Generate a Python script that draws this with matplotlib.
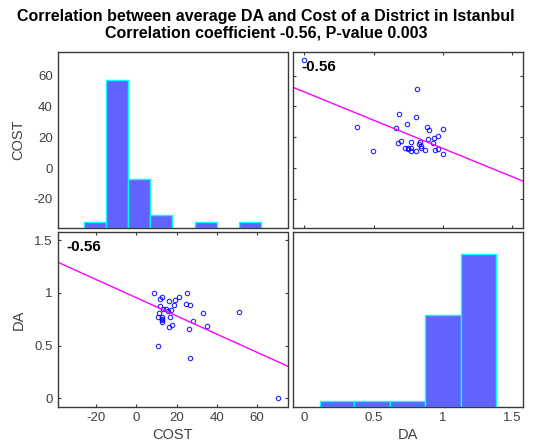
import matplotlib
matplotlib.use("Agg")
import matplotlib.pyplot as plt
import matplotlib.transforms as mtransforms

plt.rcParams["font.family"] = ["Liberation Sans", "DejaVu Sans"]
plt.rcParams["axes.unicode_minus"] = False

# ---------------------------------------------------------------------------
# Data
# ---------------------------------------------------------------------------
cost = [9.0, 11.6, 12.6, 16.3, 18.6, 19.3, 21.0, 25.4, 24.6, 26.9,
        11.6, 13.3, 14.6, 15.8, 17.1, 11.1, 33.4, 51.2, 11.0, 12.8,
        12.6, 13.0, 12.9, 16.8, 28.4, 35.2, 17.8, 16.5, 26.1, 11.0,
        26.8, 70.4]
da = [1.00, 0.946, 0.965, 0.927, 0.89, 0.936, 0.962, 1.00, 0.898, 0.889,
      0.872, 0.844, 0.844, 0.831, 0.838, 0.806, 0.806, 0.815, 0.768, 0.768,
      0.746, 0.727, 0.75, 0.771, 0.739, 0.686, 0.701, 0.679, 0.663, 0.498,
      0.381, 0.0]

cost_edges = [-26, -15, -4, 7, 18, 29, 40, 51, 62]
cost_counts = [1, 24, 8, 2, 0, 1, 0, 1]
da_edges = [0.115, 0.362, 0.62, 0.874, 1.13, 1.38]
da_counts = [1, 1, 1, 15, 25]

# least-squares lines as drawn (intercept, slope)
da_on_cost = (0.955, -0.00862)
cost_on_da = (49.5, -36.8)
r_text = "-0.56"

cost_lim = (-38.8, 75.2)
da_lim = (-0.078, 1.575)
cost_ticks = [-20, 0, 20, 40, 60]
da_ticks = [0, 0.5, 1, 1.5]
da_ticklabels = ["0", "0.5", "1", "1.5"]

title = ("Correlation between average DA and Cost of a District in Istanbul\n"
         "Correlation coefficient -0.56, P-value 0.003")

# ---------------------------------------------------------------------------
W, H = 544, 447
fig = plt.figure(figsize=(W / 100, H / 100), dpi=100)
fig.patch.set_facecolor("white")

FRAME = "#3a3a3a"
TICKCOL = "#404040"
HIST_UNIT = 0.035  # axes fraction per count


def px_axes(left, top, right, bottom):
    return fig.add_axes([left / W, 1 - bottom / H, (right - left) / W,
                         (bottom - top) / H])


ax_tl = px_axes(58.3, 52.3, 287.5, 227.7)
ax_tr = px_axes(293.3, 52.3, 522.7, 227.7)
ax_bl = px_axes(58.3, 232.3, 287.5, 406.7)
ax_br = px_axes(293.3, 232.3, 522.7, 406.7)

for ax in (ax_tl, ax_tr, ax_bl, ax_br):
    for sp in ax.spines.values():
        sp.set_color(FRAME)
        sp.set_linewidth(1.0)
    ax.tick_params(labelsize=9.5, labelcolor=TICKCOL, color=FRAME,
                   direction="in", length=2.5, width=0.8,
                   top=True, right=True, pad=4)


def hist_bars(ax, edges, counts):
    trans = mtransforms.blended_transform_factory(ax.transData, ax.transAxes)
    for lo, hi, c in zip(edges[:-1], edges[1:], counts):
        if c == 0:
            continue
        ax.add_patch(plt.Rectangle((lo, 0), hi - lo, c * HIST_UNIT,
                                   transform=trans, facecolor="#6262ff",
                                   edgecolor="#00ffff", linewidth=1.0))


def scatter_panel(ax, x, y, fit):
    ax.plot(x, y, "o", linestyle="none", markersize=3.2,
            markerfacecolor="none", markeredgecolor="#0000ff",
            markeredgewidth=0.8, alpha=0.85)
    ax.axline((0, fit[0]), slope=fit[1], color="#ff00ff", linewidth=1.0)
    ax.text(0.036, 0.955, r_text, transform=ax.transAxes, fontsize=11,
            fontweight="bold", ha="left", va="top", color="black")


# top-left: COST histogram
hist_bars(ax_tl, cost_edges, cost_counts)
ax_tl.set_xlim(cost_lim)
ax_tl.set_ylim(cost_lim)
ax_tl.set_yticks(cost_ticks)
ax_tl.set_xticks([])
ax_tl.tick_params(length=0, right=False, top=False)
ax_tl.set_ylabel("COST", fontsize=10.5, color=TICKCOL, labelpad=6)

# top-right: COST vs DA
scatter_panel(ax_tr, da, cost, cost_on_da)
ax_tr.set_xlim(da_lim)
ax_tr.set_ylim(cost_lim)
ax_tr.set_xticks(da_ticks)
ax_tr.set_yticks(cost_ticks)
ax_tr.tick_params(labelleft=False, labelbottom=False)

# bottom-left: DA vs COST
scatter_panel(ax_bl, cost, da, da_on_cost)
ax_bl.set_xlim(cost_lim)
ax_bl.set_ylim(da_lim)
ax_bl.set_xticks(cost_ticks)
ax_bl.set_yticks(da_ticks)
ax_bl.set_yticklabels(da_ticklabels)
ax_bl.set_ylabel("DA", fontsize=10.5, color=TICKCOL, labelpad=6)
ax_bl.set_xlabel("COST", fontsize=10.5, color=TICKCOL, labelpad=3)

# bottom-right: DA histogram
hist_bars(ax_br, da_edges, da_counts)
ax_br.set_xlim(da_lim)
ax_br.set_ylim(da_lim)
ax_br.set_xticks(da_ticks)
ax_br.set_xticklabels(da_ticklabels)
ax_br.set_yticks([])
ax_br.tick_params(length=0, right=False, top=False)
ax_br.set_xlabel("DA", fontsize=10.5, color=TICKCOL, labelpad=3)

fig.text(266 / W, 1 - 25 / H, title, ha="center", va="center",
         fontsize=11.5, fontweight="bold", linespacing=1.1)

fig.savefig("out.png", dpi=100)
